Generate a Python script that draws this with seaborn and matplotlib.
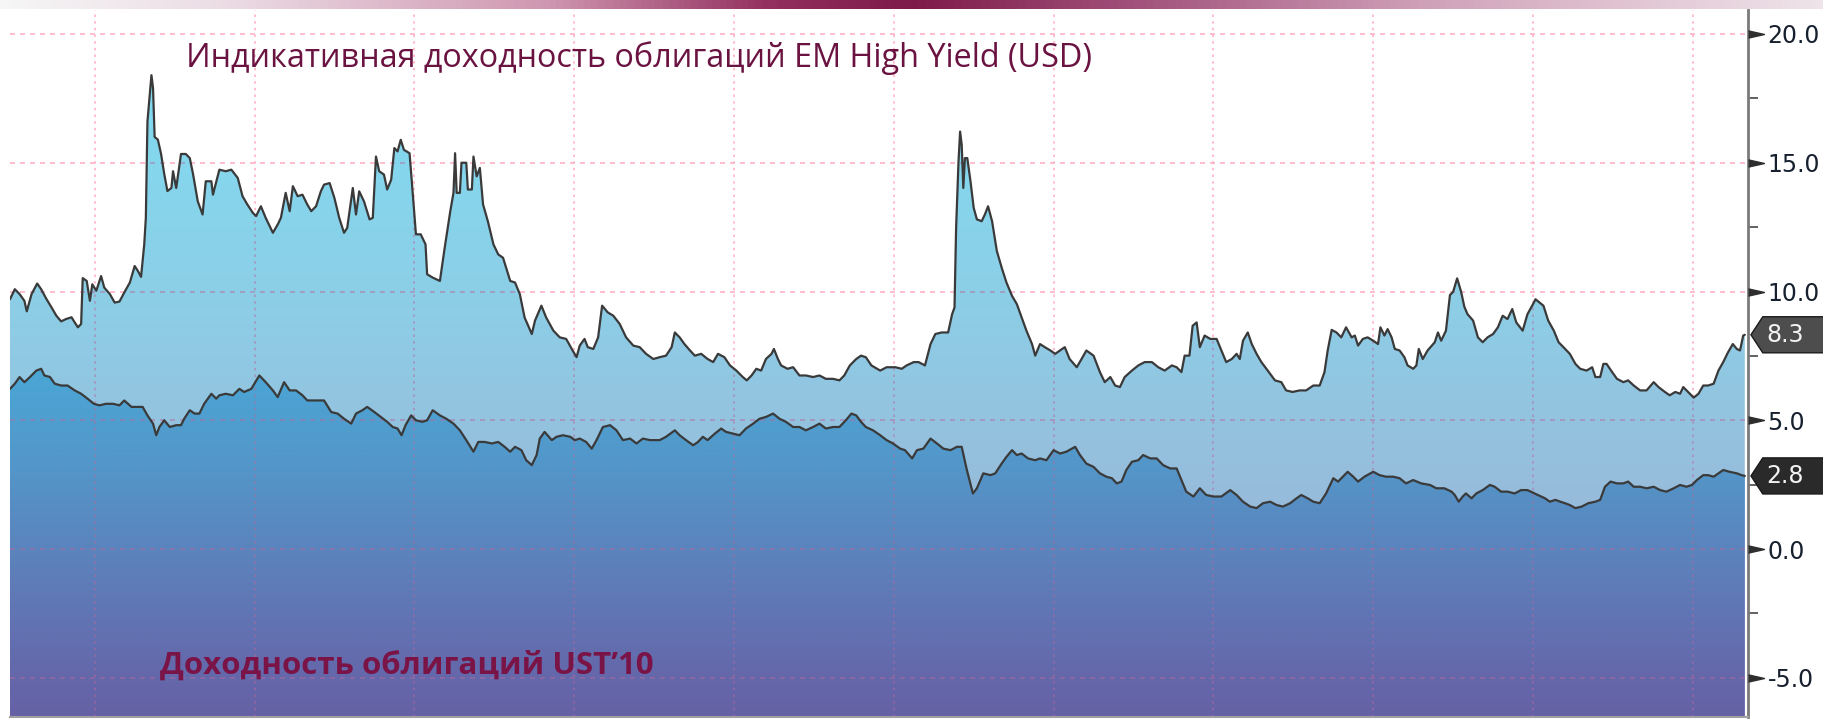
import numpy as np
import pandas as pd
import matplotlib
matplotlib.use("Agg")
import matplotlib.pyplot as plt
import seaborn as sns
from matplotlib.colors import LinearSegmentedColormap
from matplotlib.patches import Polygon

# EM High Yield indicative yield (USD), % (x = decimal year)
hy_year = [
    1996.94, 1997.00, 1997.06, 1997.12, 1997.15, 1997.21, 1997.28, 1997.33, 1997.39, 1997.46,
    1997.52, 1997.58, 1997.64, 1997.71, 1997.75, 1997.79, 1997.83, 1997.85, 1997.90, 1997.94,
    1997.97, 1998.02, 1998.08, 1998.12, 1998.19, 1998.25, 1998.31, 1998.37, 1998.44, 1998.50,
    1998.54, 1998.58, 1998.62, 1998.64, 1998.66, 1998.71, 1998.73, 1998.75, 1998.79, 1998.83,
    1998.87, 1998.91, 1998.96, 1998.98, 1999.02, 1999.08, 1999.14, 1999.19, 1999.23, 1999.29,
    1999.35, 1999.39, 1999.46, 1999.48,
    1999.56, 1999.64, 1999.71, 1999.79, 1999.85, 1999.91, 1999.98, 2000.02, 2000.08, 2000.14,
    2000.23, 2000.29, 2000.33, 2000.39, 2000.44, 2000.48, 2000.54, 2000.60, 2000.66, 2000.71,
    2000.77, 2000.83, 2000.87, 2000.94, 2001.00, 2001.06, 2001.12, 2001.16, 2001.23, 2001.27,
    2001.31, 2001.37, 2001.44, 2001.48, 2001.52, 2001.56, 2001.62, 2001.66, 2001.71, 2001.75,
    2001.79, 2001.83, 2001.87, 2001.94, 2001.97, 2002.02, 2002.08, 2002.14, 2002.16, 2002.23,
    2002.32, 2002.38, 2002.45, 2002.49, 2002.51, 2002.53, 2002.57, 2002.59, 2002.65, 2002.67,
    2002.72, 2002.74, 2002.78, 2002.82, 2002.86, 2002.92, 2002.99, 2003.05, 2003.11, 2003.20,
    2003.26, 2003.32, 2003.38, 2003.47, 2003.51, 2003.59, 2003.65, 2003.74, 2003.82, 2003.90,
    2003.97, 2004.03, 2004.07, 2004.13, 2004.17, 2004.24, 2004.30, 2004.35, 2004.42, 2004.49,
    2004.57, 2004.65, 2004.74, 2004.82, 2004.90, 2004.99,
    2005.07, 2005.15, 2005.22, 2005.26, 2005.32, 2005.38, 2005.45, 2005.51, 2005.59, 2005.67,
    2005.74, 2005.80, 2005.88, 2005.95, 2006.03, 2006.11, 2006.16, 2006.22, 2006.28, 2006.34,
    2006.40, 2006.47, 2006.50, 2006.55, 2006.59, 2006.67, 2006.74, 2006.82, 2006.90, 2006.99,
    2007.07, 2007.15, 2007.24, 2007.32, 2007.38, 2007.45, 2007.53, 2007.59, 2007.65, 2007.72,
    2007.83, 2007.91, 2008.02, 2008.10, 2008.16, 2008.25, 2008.31, 2008.39, 2008.46, 2008.52,
    2008.60, 2008.68, 2008.73, 2008.76, 2008.78, 2008.81, 2008.83, 2008.85, 2008.87, 2008.89,
    2008.92, 2008.96, 2009.00, 2009.04, 2009.10, 2009.14, 2009.18, 2009.23, 2009.29, 2009.35,
    2009.41, 2009.48, 2009.54, 2009.60, 2009.66, 2009.73, 2009.77, 2009.83, 2009.89, 2009.96,
    2010.02, 2010.08, 2010.14, 2010.20, 2010.29, 2010.35, 2010.41, 2010.50,
    2010.58, 2010.64, 2010.71, 2010.77, 2010.83, 2010.89, 2010.98, 2011.06, 2011.14, 2011.23,
    2011.31, 2011.39, 2011.48, 2011.54, 2011.60, 2011.64, 2011.70, 2011.74, 2011.79, 2011.83,
    2011.89, 2011.96, 2012.04, 2012.10, 2012.16, 2012.23, 2012.29, 2012.33, 2012.37, 2012.43,
    2012.48, 2012.54, 2012.60, 2012.68, 2012.77, 2012.85, 2012.91, 2012.99, 2013.08, 2013.16,
    2013.25,
    2013.33, 2013.39, 2013.43, 2013.48, 2013.54, 2013.60, 2013.66, 2013.73, 2013.77, 2013.81,
    2013.87, 2013.93, 2014.00, 2014.06, 2014.09, 2014.14, 2014.18, 2014.23, 2014.27, 2014.33,
    2014.39, 2014.43, 2014.50, 2014.54, 2014.57, 2014.62, 2014.68, 2014.77, 2014.81, 2014.85,
    2014.91, 2014.96, 2015.00, 2015.05, 2015.10, 2015.14, 2015.18, 2015.25, 2015.31, 2015.37,
    2015.43, 2015.50, 2015.56, 2015.62, 2015.68, 2015.74, 2015.79, 2015.87, 2015.93, 2016.00,
    2016.03,
    2016.13, 2016.19, 2016.26, 2016.32, 2016.38, 2016.46, 2016.53, 2016.59, 2016.67, 2016.74,
    2016.78, 2016.84, 2016.88, 2016.92, 2016.99, 2017.05, 2017.13, 2017.19, 2017.26, 2017.34,
    2017.42, 2017.51, 2017.57, 2017.65, 2017.71, 2017.78, 2017.84, 2017.88, 2017.94, 2018.01,
    2018.07, 2018.13, 2018.19, 2018.26, 2018.32, 2018.38, 2018.44, 2018.50, 2018.55, 2018.59,
    2018.63, 2018.65,
]
hy_val = [
    9.70, 10.09, 9.90, 9.64, 9.23, 9.90, 10.31, 10.09, 9.74, 9.38,
    9.06, 8.84, 8.93, 9.00, 8.80, 8.61, 8.74, 10.52, 10.41, 9.64,
    10.28, 10.03, 10.60, 10.15, 9.90, 9.57, 9.61, 9.96, 10.35, 10.99,
    10.80, 10.57, 11.83, 12.86, 16.60, 18.40, 17.90, 16.00, 15.90, 15.35,
    14.57, 13.90, 14.02, 14.67, 14.02, 15.34, 15.34, 15.18, 14.57, 13.50,
    12.99, 14.28, 14.28, 13.76,
    14.73, 14.67, 14.73, 14.41, 13.70, 13.38, 13.05, 12.93, 13.31, 12.86,
    12.28, 12.60, 12.86, 13.83, 13.12, 14.09, 13.70, 13.76, 13.38, 13.12,
    13.31, 13.89, 14.15, 14.21, 13.63, 12.86, 12.28, 12.47, 14.02, 12.99,
    13.89, 13.50, 12.80, 12.86, 15.24, 14.67, 14.54, 13.96, 14.34, 15.57,
    15.44, 15.89, 15.50, 15.37, 14.21, 12.22, 12.22, 11.83, 10.67, 10.54,
    10.41, 11.70, 13.12, 13.83, 15.37, 13.83, 13.83, 15.00, 15.00, 13.96,
    13.96, 15.24, 14.47, 14.80, 13.38, 12.73, 11.83, 11.44, 11.31, 10.41,
    10.35, 9.90, 8.99, 8.35, 8.87, 9.45, 8.99, 8.48, 8.22, 8.16,
    7.77, 7.45, 7.90, 8.16, 7.84, 7.77, 8.22, 9.45, 9.19, 9.06,
    8.74, 8.22, 7.90, 7.84, 7.58, 7.38,
    7.45, 7.51, 7.84, 8.41, 8.22, 7.96, 7.71, 7.51, 7.58, 7.38,
    7.26, 7.58, 7.45, 7.13, 6.93, 6.68, 6.55, 6.74, 7.00, 6.93,
    7.38, 7.58, 7.77, 7.38, 7.13, 7.00, 7.06, 6.74, 6.74, 6.68,
    6.74, 6.61, 6.61, 6.55, 6.74, 7.13, 7.38, 7.51, 7.45, 7.13,
    6.93, 7.06, 7.06, 7.00, 7.13, 7.26, 7.26, 7.13, 7.96, 8.35,
    8.41, 8.41, 9.12, 9.38, 12.47, 15.05, 16.21, 15.70, 14.02, 15.18,
    15.18, 14.28, 13.25, 12.80, 12.73, 12.99, 13.31, 12.73, 11.57, 10.93,
    10.35, 9.83, 9.51, 8.99, 8.48, 7.96, 7.51, 7.96, 7.84, 7.71,
    7.58, 7.71, 7.84, 7.38, 7.06, 7.38, 7.71, 7.51,
    6.87, 6.48, 6.68, 6.35, 6.29, 6.68, 6.93, 7.13, 7.26, 7.26,
    7.06, 6.93, 7.13, 7.06, 6.87, 7.51, 7.51, 8.67, 8.80, 7.84,
    8.29, 8.16, 8.16, 7.71, 7.26, 7.38, 7.58, 7.38, 8.09, 8.41,
    7.96, 7.58, 7.26, 6.93, 6.55, 6.48, 6.16, 6.10, 6.16, 6.16,
    6.35,
    6.35, 6.87, 7.71, 8.51, 8.41, 8.22, 8.61, 8.22, 8.29, 7.90,
    8.16, 8.22, 8.09, 7.96, 8.61, 8.29, 8.54, 8.22, 7.77, 7.71,
    7.45, 7.13, 7.00, 7.13, 7.77, 7.38, 7.71, 8.03, 8.41, 8.09,
    8.48, 9.86, 9.99, 10.51, 9.99, 9.41, 9.12, 8.87, 8.22, 8.03,
    8.22, 8.35, 8.61, 9.06, 8.93, 9.32, 8.80, 8.48, 9.12, 9.51,
    9.70,
    9.45, 8.87, 8.48, 8.03, 7.84, 7.58, 7.19, 7.00, 6.93, 7.06,
    6.68, 6.68, 7.19, 7.19, 6.87, 6.61, 6.48, 6.55, 6.35, 6.16,
    6.16, 6.48, 6.29, 6.10, 5.97, 6.10, 6.03, 6.29, 6.10, 5.88,
    6.03, 6.35, 6.35, 6.42, 6.93, 7.26, 7.64, 7.96, 7.77, 7.71,
    8.29, 8.32,
]

# US Treasury 10y yield, %
ust_year = [
    1996.94, 1997.00, 1997.06, 1997.12, 1997.19, 1997.27, 1997.33, 1997.37, 1997.44, 1997.50,
    1997.58, 1997.66, 1997.75, 1997.83, 1997.91, 1997.99, 1998.06, 1998.14, 1998.23, 1998.31,
    1998.37, 1998.46, 1998.54, 1998.60, 1998.66, 1998.73, 1998.77, 1998.81, 1998.87, 1998.94,
    1999.02, 1999.08, 1999.12, 1999.19, 1999.25, 1999.31, 1999.37, 1999.46, 1999.52,
    1999.56, 1999.64, 1999.73, 1999.81, 1999.87, 1999.96, 2000.06, 2000.14, 2000.23, 2000.29,
    2000.37, 2000.44, 2000.52, 2000.60, 2000.66, 2000.77, 2000.87, 2000.96, 2001.04, 2001.12,
    2001.21, 2001.27, 2001.35, 2001.41, 2001.50, 2001.58, 2001.66, 2001.73, 2001.79, 2001.84,
    2001.89, 2001.96, 2002.02, 2002.10, 2002.16, 2002.23,
    2002.32, 2002.40, 2002.49, 2002.57, 2002.65, 2002.74, 2002.80, 2002.88, 2002.97, 2003.05,
    2003.13, 2003.20, 2003.26, 2003.34, 2003.40, 2003.47, 2003.53, 2003.57, 2003.63, 2003.72,
    2003.78, 2003.86, 2003.95, 2004.01, 2004.07, 2004.15, 2004.22, 2004.28, 2004.36, 2004.45,
    2004.53, 2004.61, 2004.70, 2004.78, 2004.86, 2004.95,
    2005.07, 2005.15, 2005.26, 2005.32, 2005.40, 2005.49, 2005.55, 2005.61, 2005.67, 2005.76,
    2005.84, 2005.90, 2005.99, 2006.07, 2006.15, 2006.24, 2006.32, 2006.40, 2006.49, 2006.57,
    2006.65, 2006.74, 2006.82, 2006.90, 2006.99, 2007.07, 2007.15, 2007.24, 2007.32, 2007.40,
    2007.47, 2007.53, 2007.59, 2007.65, 2007.74,
    2007.83, 2007.91, 2007.99, 2008.08, 2008.14, 2008.23, 2008.29, 2008.37, 2008.46, 2008.54,
    2008.62, 2008.71, 2008.79, 2008.85, 2008.91, 2008.99, 2009.04, 2009.12, 2009.21, 2009.27,
    2009.35, 2009.41, 2009.48, 2009.54, 2009.60, 2009.68, 2009.77, 2009.83, 2009.91, 2010.00,
    2010.08, 2010.16, 2010.27, 2010.33, 2010.41, 2010.50,
    2010.58, 2010.66, 2010.73, 2010.79, 2010.85, 2010.91, 2010.98, 2011.06, 2011.12, 2011.21,
    2011.29, 2011.37, 2011.46, 2011.54, 2011.60, 2011.66, 2011.75, 2011.83, 2011.91, 2012.00,
    2012.10, 2012.21, 2012.29, 2012.37, 2012.46, 2012.54, 2012.62, 2012.71, 2012.79, 2012.87,
    2012.96, 2013.04, 2013.10, 2013.18, 2013.25,
    2013.33, 2013.41, 2013.50, 2013.56, 2013.62, 2013.68, 2013.75, 2013.81, 2013.89, 2014.00,
    2014.08, 2014.16, 2014.25, 2014.33, 2014.41, 2014.50, 2014.60, 2014.71, 2014.79, 2014.89,
    2014.98, 2015.02, 2015.07, 2015.12, 2015.16, 2015.23, 2015.29, 2015.37, 2015.46, 2015.52,
    2015.60, 2015.68, 2015.77, 2015.85, 2015.93, 2016.02,
    2016.15, 2016.21, 2016.28, 2016.34, 2016.40, 2016.46, 2016.53, 2016.61, 2016.69, 2016.78,
    2016.84, 2016.90, 2016.97, 2017.05, 2017.13, 2017.19, 2017.26, 2017.34, 2017.42, 2017.51,
    2017.59, 2017.67, 2017.76, 2017.84, 2017.92, 2017.99, 2018.05, 2018.13, 2018.19, 2018.26,
    2018.32, 2018.38, 2018.46, 2018.55, 2018.61, 2018.65,
]
ust_val = [
    6.22, 6.42, 6.68, 6.48, 6.68, 6.93, 7.00, 6.74, 6.68, 6.42,
    6.35, 6.35, 6.16, 6.03, 5.84, 5.64, 5.58, 5.64, 5.64, 5.58,
    5.77, 5.52, 5.52, 5.52, 5.19, 4.87, 4.42, 4.74, 5.00, 4.74,
    4.81, 4.81, 5.06, 5.39, 5.26, 5.26, 5.64, 6.03, 5.84,
    5.97, 6.03, 5.97, 6.22, 6.10, 6.22, 6.74, 6.48, 6.16, 5.90,
    6.48, 6.16, 6.16, 5.97, 5.77, 5.77, 5.77, 5.32, 5.26, 5.06,
    4.87, 5.26, 5.39, 5.52, 5.32, 5.13, 4.94, 4.74, 4.68, 4.42,
    4.81, 5.19, 5.00, 4.94, 5.00, 5.39,
    5.19, 5.06, 4.87, 4.61, 4.23, 3.78, 4.16, 4.16, 4.10, 4.16,
    3.97, 3.78, 3.97, 3.84, 3.45, 3.26, 3.65, 4.29, 4.55, 4.23,
    4.36, 4.42, 4.36, 4.23, 4.29, 4.16, 3.90, 4.23, 4.74, 4.81,
    4.61, 4.23, 4.29, 4.10, 4.29, 4.23,
    4.23, 4.36, 4.61, 4.42, 4.23, 4.03, 4.16, 4.36, 4.23, 4.48,
    4.68, 4.55, 4.48, 4.42, 4.68, 4.87, 5.06, 5.13, 5.26, 5.06,
    4.94, 4.74, 4.74, 4.61, 4.74, 4.87, 4.68, 4.74, 4.74, 5.00,
    5.26, 5.19, 4.94, 4.74, 4.61,
    4.42, 4.23, 4.10, 3.90, 3.84, 3.52, 3.84, 3.90, 4.29, 4.10,
    3.90, 3.84, 3.97, 3.97, 3.13, 2.16, 2.36, 2.94, 2.87, 2.94,
    3.32, 3.58, 3.84, 3.65, 3.71, 3.52, 3.45, 3.52, 3.45, 3.84,
    3.71, 3.78, 3.97, 3.65, 3.32, 3.19,
    2.94, 2.81, 2.75, 2.55, 2.62, 3.07, 3.39, 3.45, 3.65, 3.52,
    3.52, 3.26, 3.13, 3.13, 2.68, 2.23, 2.04, 2.36, 2.10, 2.04,
    2.04, 2.29, 2.10, 1.84, 1.65, 1.59, 1.78, 1.84, 1.71, 1.65,
    1.78, 1.97, 2.10, 1.97, 1.84,
    1.78, 2.16, 2.75, 2.62, 2.81, 3.00, 2.81, 2.62, 2.81, 3.00,
    2.87, 2.81, 2.81, 2.75, 2.55, 2.68, 2.55, 2.49, 2.36, 2.36,
    2.23, 2.10, 1.84, 2.04, 2.16, 1.97, 2.16, 2.29, 2.49, 2.42,
    2.23, 2.23, 2.16, 2.29, 2.29, 2.16,
    1.97, 1.84, 1.91, 1.84, 1.78, 1.71, 1.59, 1.65, 1.78, 1.84,
    1.91, 2.42, 2.62, 2.55, 2.55, 2.62, 2.42, 2.42, 2.36, 2.42,
    2.29, 2.23, 2.36, 2.49, 2.42, 2.49, 2.68, 2.87, 2.87, 2.81,
    2.94, 3.07, 3.00, 2.94, 2.87, 2.84,
]

y_ticks = [-5, 0, 5, 10, 15, 20]
y_minor = [-2.5, 2.5, 7.5, 12.5, 17.5]
x_grid = list(range(1998, 2019, 2))

label_hy = "Индикативная доходность облигаций EM High Yield (USD)"
label_ust = "Доходность облигаций UST’10"

X_LIM = (1996.94, 2018.69)
Y_LIM = (-6.52, 20.93)

hy = pd.DataFrame({"year": hy_year, "yield": hy_val})
ust = pd.DataFrame({"year": ust_year, "yield": ust_val})

sns.set_theme(style="white")
plt.rcParams["font.family"] = ["DejaVu Sans"]

fig = plt.figure(figsize=(18.24, 7.21), dpi=100)
ax = fig.add_axes([10 / 1824, 4 / 721, 1738 / 1824, 707 / 721])
ax.set_xlim(*X_LIM)
ax.set_ylim(*Y_LIM)


def gradient_under(ax, x, y, stops, zorder):
    # area under a curve filled with a vertical colour gradient
    poly = ax.fill_between(x, y, Y_LIM[0], facecolor="none", edgecolor="none")
    lo, hi = stops[0][0], stops[-1][0]
    cmap = LinearSegmentedColormap.from_list(
        "g", [((v - lo) / (hi - lo), c) for v, c in stops])
    grad = np.linspace(lo, hi, 400).reshape(-1, 1)
    im = ax.imshow(grad, cmap=cmap, aspect="auto", origin="lower",
                   extent=[min(x), max(x), lo, hi], vmin=lo, vmax=hi,
                   zorder=zorder, interpolation="bilinear")
    im.set_clip_path(poly.get_paths()[0], transform=ax.transData)
    return poly.get_paths()[0]


hy_path = gradient_under(ax, hy["year"], hy["yield"],
                         [(-6.6, "#9ab4d6"), (2, "#97bcdb"), (5, "#93c3df"),
                          (10, "#8ccfe7"), (18.5, "#80dbf1")], 1)
gradient_under(ax, ust["year"], ust["yield"],
               [(-6.6, "#6660a5"), (-3, "#6272b2"), (0, "#5b84bd"),
                (3, "#5495c8"), (7, "#4aa7d6")], 1.2)

# grid: pink on white, mauve where it crosses the filled areas
for v in y_ticks:
    ax.axhline(v, color="#ffb3c5", lw=1.2, ls=(0, (3, 3)), zorder=0.5)
    ln = ax.axhline(v, color="#b8689c", lw=1.2, ls=(0, (3, 3)), alpha=0.55, zorder=2)
    ln.set_clip_path(hy_path, ax.transData)
for yr in x_grid:
    ax.axvline(yr, color="#ffb3c5", lw=1.2, ls=(0, (1.5, 2.5)), zorder=0.5)
    ln = ax.axvline(yr, color="#b8689c", lw=1.2, ls=(0, (1.5, 2.5)), alpha=0.55, zorder=2)
    ln.set_clip_path(hy_path, ax.transData)

sns.lineplot(data=hy, x="year", y="yield", ax=ax, color="#3a3a3a", lw=1.6,
             estimator=None, zorder=3)
sns.lineplot(data=ust, x="year", y="yield", ax=ax, color="#3a3a3a", lw=1.6,
             estimator=None, zorder=3)
ax.set_xlim(*X_LIM)
ax.set_ylim(*Y_LIM)
ax.set_xlabel("")
ax.set_ylabel("")
ax.set_xticks([])

# right-hand axis with triangle tick marks
ax.yaxis.tick_right()
ax.set_yticks(y_ticks, labels=[f"{v:.1f}" for v in y_ticks])
ax.set_yticks(y_minor, minor=True)
ax.tick_params(axis="y", which="major", length=0, pad=14, labelsize=17,
               labelcolor="#17202e")
ax.tick_params(axis="y", which="minor", length=7, width=1.3, color="#555555",
               direction="out", right=True, left=False)
ax.plot([1.0045] * len(y_ticks), y_ticks, ls="none",
        marker=[(-1, -0.45), (1, 0), (-1, 0.45)], ms=11.5, color="#2e2e2e",
        transform=ax.get_yaxis_transform(), clip_on=False, zorder=5)

for side in ["top", "left"]:
    ax.spines[side].set_visible(False)
ax.spines["right"].set_color("#7a7a7a")
ax.spines["right"].set_linewidth(2)
ax.spines["bottom"].set_color("#a0a0a0")
ax.spines["bottom"].set_linewidth(1.5)


def value_tag(ax, v, fc):
    tr = ax.get_yaxis_transform()
    h = 0.7
    pts = [(1.0017, v), (1.0085, v + h), (1.08, v + h), (1.08, v - h), (1.0085, v - h)]
    ax.add_patch(Polygon(pts, closed=True, transform=tr, fc=fc, ec="#1a1a1a",
                         lw=1, clip_on=False, zorder=6))
    ax.text(1.0104, v, f"{v:.1f}", transform=tr, color="#f2f2f2", fontsize=17,
            va="center", ha="left", zorder=7, clip_on=False)


value_tag(ax, hy_val[-1], "#4d4d4d")
value_tag(ax, ust_val[-1], "#2a2a2a")

# series captions
fig.text(186 / 1824, 1 - 58 / 721, label_hy, color="#6a1240", fontsize=23.3,
         ha="left", va="center", family=["Open Sans", "DejaVu Sans"])
fig.text(160 / 1824, 1 - 665 / 721, label_ust, color="#7a1446", fontsize=22.5,
         fontweight="bold", ha="left", va="center", family=["Open Sans", "DejaVu Sans"])

# decorative gradient band along the top edge
bar_cmap = LinearSegmentedColormap.from_list("bar", [
    (0.0, "#f6f6f6"), (0.12, "#ecdde5"), (0.3, "#cf97b1"), (0.42, "#93305f"),
    (0.5, "#7e1a4a"), (0.62, "#a0507a"), (0.78, "#cfa0b8"), (0.9, "#e2c6d4"),
    (1.0, "#efe4ea")])
bar = fig.add_axes([0, 1 - 9 / 721, 1, 9 / 721])
bar.imshow(np.linspace(0, 1, 512).reshape(1, -1), cmap=bar_cmap, aspect="auto")
bar.axis("off")

fig.savefig("out.png", dpi=100)
